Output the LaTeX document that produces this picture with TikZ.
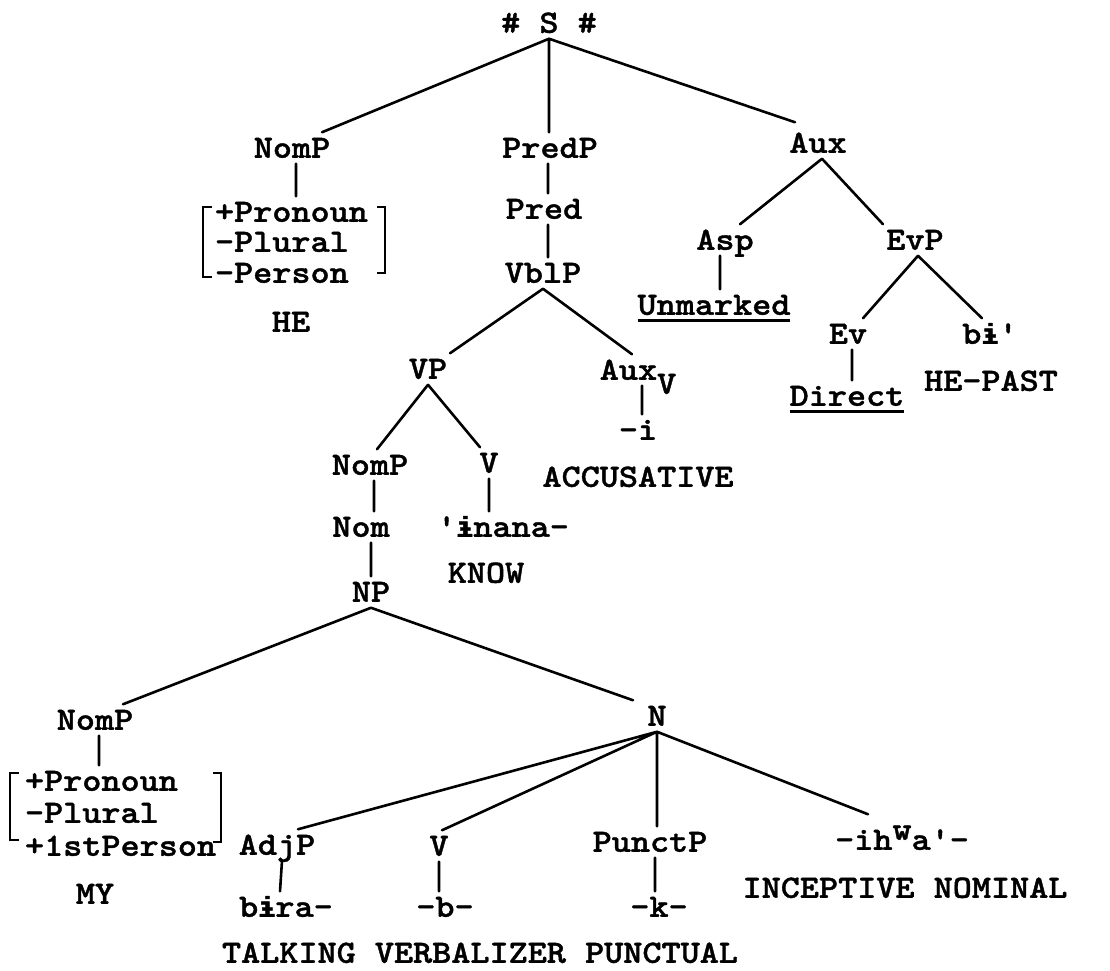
\documentclass[tikz,border=0pt]{standalone}
\usepackage{fontspec}
\setmonofont{lmmonolt10-bold.otf}[FakeStretch=1.12,FakeBold=1.2]
\newfontfamily\ipafont{Liberation Mono}[Scale=0.88,FakeBold=1.5]
\newcommand\ib{{\ipafont\bfseries ɨ}}
\usetikzlibrary{calc}
\begin{document}
\begin{tikzpicture}[x=1pt,y=-1pt,
  lbl/.style={font=\ttfamily\fontsize{32.5}{32.5}\selectfont,
    inner xsep=0pt, inner ysep=6pt, outer sep=0pt,
    text height=19.5pt, text depth=0pt},
  feat/.style={lbl, anchor=west},
  branch/.style={line width=2.6pt, line cap=round},
  bracket/.style={line width=2.3pt},
  uline/.style={line width=2.6pt}]
\useasboundingbox (0,0) rectangle (1110,970);

% top level
\node[lbl] (S) at (549,23) {\# S \#};
\node[lbl] (nomp1) at (292,148) {NomP};
\node[lbl] (predp) at (550,148) {PredP};
\node[lbl] (aux) at (818,143) {Aux};

% subject features
\node[feat] (f1a) at (215,212) {+Pronoun};
\node[feat] (f1b) at (215,242) {-Plural};
\node[feat] (f1c) at (215,273) {-Person};
\node[lbl] (he) at (291,322) {HE};

% predicate
\node[lbl] (pred) at (544,209) {Pred};
\node[lbl] (vblp) at (543,273) {VblP};
\node[lbl] (vp) at (428,369) {VP};
\node[lbl] (auxv) at (638,370) {Aux\raisebox{-14pt}{V}};
\node[lbl] (mi) at (638,430) {-i};
\node[lbl] (accus) at (638,477) {ACCUSATIVE};
\node[lbl] (nomp2) at (370,465) {NomP};
\node[lbl] (v1) at (489,463) {V};
\node[lbl] (nom) at (361,527) {Nom};
\node[lbl] (inana) at (503,527) {'\ib nana-};
\node[lbl] (know) at (486,573) {KNOW};
\node[lbl] (np) at (371,592) {NP};

% possessor
\node[lbl] (nomp3) at (95,720) {NomP};
\node[feat] (f2a) at (25,781) {+Pronoun};
\node[feat] (f2b) at (25,813) {-Plural};
\node[feat] (f2c) at (25,846) {+1stPerson};
\node[lbl] (my) at (95,894) {MY};

% noun
\node[lbl] (n) at (657,716) {N};
\node[lbl] (adjp) at (277,845) {AdjP};
\node[lbl] (bira) at (286,907) {b\ib ra-};
\node[lbl] (v2) at (439,846) {V};
\node[lbl] (bb) at (445,907) {-b-};
\node[lbl] (punctp) at (650,842) {PunctP};
\node[lbl] (kk) at (659,907) {-k-};
\node[lbl] (ihwa) at (902,840) {-ih\raisebox{10pt}{w}a'-};
\node[lbl] (incep) at (905,888) {INCEPTIVE NOMINAL};
\node[lbl] (talk) at (480,953) {TALKING VERBALIZER PUNCTUAL};

% auxiliary
\node[lbl] (asp) at (725,240) {Asp};
\node[lbl] (unmarked) at (714,305) {Unmarked};
\node[lbl] (evp) at (915,240) {EvP};
\node[lbl] (ev) at (848,334) {Ev};
\node[lbl] (direct) at (847,396) {Direct};
\node[lbl] (bi) at (990,334) {b\ib'};
\node[lbl] (hepast) at (991,381) {HE-PAST};

% branches
\draw[branch]
  (S.south) -- ([xshift=30pt]nomp1.north)
  (S.south) -- (S.south |- predp.north)
  (S.south) -- ([xshift=-23pt,yshift=5pt]aux.north)
  ([xshift=4pt]nomp1.south) -- ([xshift=4pt]nomp1.south |- f1a.north)
  ([xshift=-2pt]predp.south) -- ([xshift=-2pt]predp.south |- pred.north)
  ([xshift=4pt]pred.south) -- ([xshift=4pt]pred.south |- vblp.north)
  (vblp.south) -- ([xshift=22pt]vp.north)
  (vblp.south) -- ([xshift=-6pt]auxv.north)
  ([xshift=4pt]auxv.south) -- ([xshift=4pt]auxv.south |- mi.north)
  (vp.south) -- ([xshift=7pt]nomp2.north)
  (vp.south) -- ([xshift=-9pt]v1.north)
  ([xshift=4pt]nomp2.south) -- ([xshift=4pt]nomp2.south |- nom.north)
  (v1.south) -- (v1.south |- inana.north)
  (np.north |- nom.south) -- (np.north)
  (np.south) -- ([xshift=28pt]nomp3.north)
  (np.south) -- ([xshift=-24pt]n.north)
  ([xshift=4pt]nomp3.south) -- ([xshift=4pt]nomp3.south |- f2a.north)
  (n.south) -- ([xshift=21pt]adjp.north)
  (n.south) -- ([xshift=3pt]v2.north)
  (n.south) -- (n.south |- punctp.north)
  (n.south) -- ([xshift=-34pt,yshift=10pt]ihwa.north)
  ([xshift=5pt]adjp.south) -- ([xshift=-6pt]bira.north)
  (v2.south) -- (v2.south |- bb.north)
  ([xshift=5pt]punctp.south) -- ([xshift=5pt]punctp.south |- kk.north)
  ([xshift=4pt]aux.south) -- ([xshift=15pt]asp.north)
  ([xshift=4pt]aux.south) -- ([xshift=-32pt]evp.north)
  ([xshift=-5pt]asp.south) -- ([xshift=-5pt]asp.south |- unmarked.north)
  ([xshift=3pt]evp.south) -- ([xshift=15pt]ev.north)
  ([xshift=3pt]evp.south) -- ([xshift=-8pt]bi.north)
  ([xshift=4pt]ev.south) -- ([xshift=4pt]ev.south |- direct.north);

% feature brackets
\draw[bracket] ($(f1a.west)+(-3,-5)$) -- ($(f1a.west)+(-12,-5)$)
  -- ($(f1c.west)+(-12,4)$) -- ($(f1c.west)+(-3,4)$);
\draw[bracket] ($(f1a.west)+(162,-5)$) -- ($(f1a.west)+(170,-5)$)
  -- ($(f1c.west)+(170,0)$) -- ($(f1c.west)+(162,0)$);
\draw[bracket] ($(f2a.west)+(-6,-8)$) -- ($(f2a.west)+(-15,-8)$)
  -- ($(f2c.west)+(-15,-6)$) -- ($(f2c.west)+(-6,-6)$);
\draw[bracket] ($(f2a.west)+(188,-8)$) -- ($(f2a.west)+(196,-8)$)
  -- ($(f2c.west)+(196,-4)$) -- ($(f2c.west)+(188,-4)$);

% underlined labels
\draw[uline] (unmarked.south west) -- (unmarked.south east);
\draw[uline] (direct.south west) -- (direct.south east);
\end{tikzpicture}
\end{document}
